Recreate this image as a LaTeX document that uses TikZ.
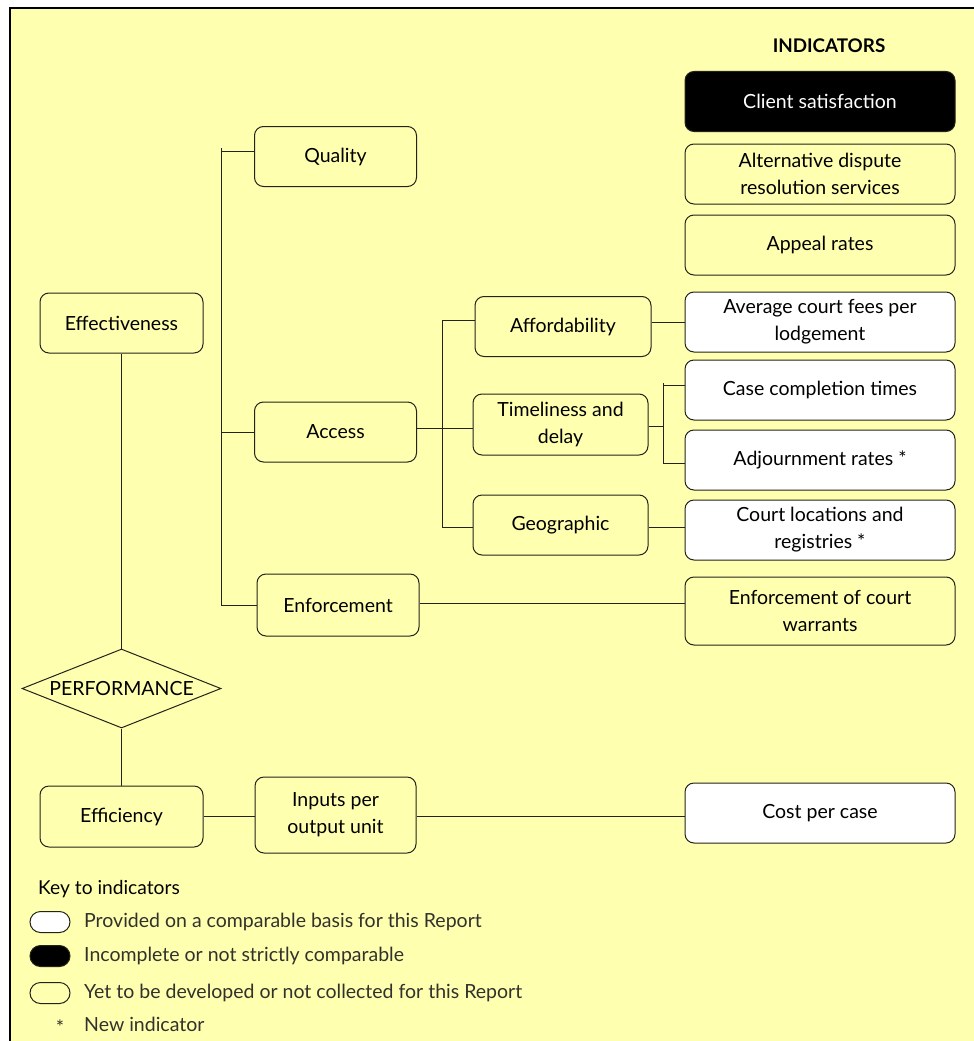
\documentclass[tikz,border=0pt]{standalone}
\usepackage{fontspec}
\setmainfont{Lato}
\usetikzlibrary{shapes.geometric}
\definecolor{yel}{RGB}{255,255,176}
\definecolor{linec}{RGB}{35,35,25}
\definecolor{keytext}{RGB}{50,50,45}
\begin{document}
\begin{tikzpicture}[x=1pt,y=-1pt,
  box/.style={draw=linec, line width=1pt, rounded corners=9pt, fill=yel, align=center, inner sep=0pt, font=\fontsize{19.5}{27}\selectfont, text=black},
  ind/.style={box, minimum width=270pt, minimum height=60pt},
  wbox/.style={ind, fill=white},
  lbox/.style={box, minimum width=162pt, minimum height=60pt},
  ln/.style={draw=linec, line width=1pt},
  keyoval/.style={draw=linec, line width=1pt, rounded corners=10.5pt, minimum width=40pt, minimum height=21pt, inner sep=0pt},
  keytxt/.style={anchor=west, text=keytext, inner sep=0pt, font=\fontsize{19.5}{22}\selectfont}]
\useasboundingbox (0,0) rectangle (974,1041);
\fill[white] (0,0) rectangle (974,1041);
\fill[yel] (10,8) rectangle (974,1041);
\draw[black, line width=2.5pt] (10,1041) -- (10,8) -- (974,8);

% indicators column
\node[font=\bfseries\fontsize{18.8}{20}\selectfont] (ttl) at (829,46) {INDICATORS};
\node[ind, fill=black, text=white] (cs) at (820,101.5) {Client satisfaction};
\node[ind] (adr) at (820,174) {Alternative dispute\\resolution services};
\node[ind] (ap) at (820,245) {Appeal rates};
\node[wbox] (acf) at (820,322) {Average court fees per\\lodgement};
\node[wbox] (cct) at (820,390) {Case completion times};
\node[wbox] (adj) at (820,460) {Adjournment rates *};
\node[wbox] (cl) at (820,530) {Court locations and\\registries *};
\node[ind, minimum height=68pt] (ecw) at (820,611) {Enforcement of court\\warrants};
\node[wbox] (cpc) at (820,813) {Cost per case};

% framework
\node[lbox] (qual) at (335.5,156.5) {Quality};
\node[lbox, minimum width=163pt] (eff) at (121.5,323) {Effectiveness};
\node[lbox] (acc) at (335.5,432) {Access};
\node[lbox, minimum width=176pt] (aff) at (563,326.5) {Affordability};
\node[lbox, minimum width=175pt, minimum height=61pt] (tim) at (560.5,424.5) {Timeliness and\\delay};
\node[lbox, minimum width=175pt] (geo) at (560.5,525) {Geographic};
\node[lbox, minimum height=62pt] (enf) at (338,605) {Enforcement};
\node[draw=linec, line width=1pt, fill=yel, shape=diamond, aspect=2.5, minimum width=199pt, minimum height=79pt, inner sep=0pt, font=\fontsize{19.5}{20}\selectfont] (perf) at (121.5,688.5) {PERFORMANCE};
\node[lbox, minimum width=163pt, minimum height=61pt] (effc) at (121.5,816.5) {Efficiency};
\node[lbox, minimum width=161pt, minimum height=76pt] (inp) at (335.5,815) {Inputs per\\output unit};

% connectors
\draw[ln] (eff.south) -- (perf.north);
\draw[ln] (perf.south) -- (effc.north);

\coordinate (bt) at (221,148);
\coordinate (bq) at (221,151);
\coordinate (bb) at (221,605);
\draw[ln] (bt) -- (bb) -- (enf.west);
\draw[ln] (bq) -- (bq -| qual.west);
\draw[ln] (acc.west) -- (acc.west -| bt);

\coordinate (a1) at (442,428);
\coordinate (c1) at (442,320);
\coordinate (c2) at (442,527);
\draw[ln] (acc.east |- a1) -- (a1 -| tim.west);
\draw[ln] (c1 -| aff.west) -- (c1) -- (c2) -- (c2 -| geo.west);
\draw[ln] (acf.west) -- (acf.west -| aff.east);

\coordinate (d0) at (663,426);
\coordinate (d1) at (663,383);
\coordinate (e1) at (663,385);
\coordinate (e2) at (663,463);
\draw[ln] (tim.east |- d0) -- (d0);
\draw[ln] (d1) -- (e2) -- (e2 -| adj.west);
\draw[ln] (e1) -- (e1 -| cct.west);
\draw[ln] (geo.east |- c2) -- (c2 -| cl.west);

\coordinate (f1) at (0,603);
\draw[ln] (enf.east |- f1) -- (ecw.west |- f1);
\draw[ln] (effc.east) -- (effc.east -| inp.west);
\coordinate (f2) at (0,816);
\draw[ln] (inp.east |- f2) -- (cpc.west |- f2);

% key
\node[anchor=west, inner sep=0pt, font=\fontsize{19.2}{22}\selectfont] (key) at (38,889) {Key to indicators};
\node[keyoval, fill=white] (k1) at (50,922) {};
\node[keyoval, fill=black] (k2) at (50,956) {};
\node[keyoval, fill=yel] (k3) at (50,993) {};
\node[keytxt] (t1) at (84,922) {Provided on a comparable basis for this Report};
\node[keytxt] (t2) at (84,956) {Incomplete or not strictly comparable};
\node[keytxt] (t3) at (84,993) {Yet to be developed or not collected for this Report};
\node[text=keytext, inner sep=0pt, font=\fontsize{19.5}{22}\selectfont] (k4) at (60,1027) {*};
\node[keytxt] (t4) at (84,1024) {New indicator};
\end{tikzpicture}
\end{document}
